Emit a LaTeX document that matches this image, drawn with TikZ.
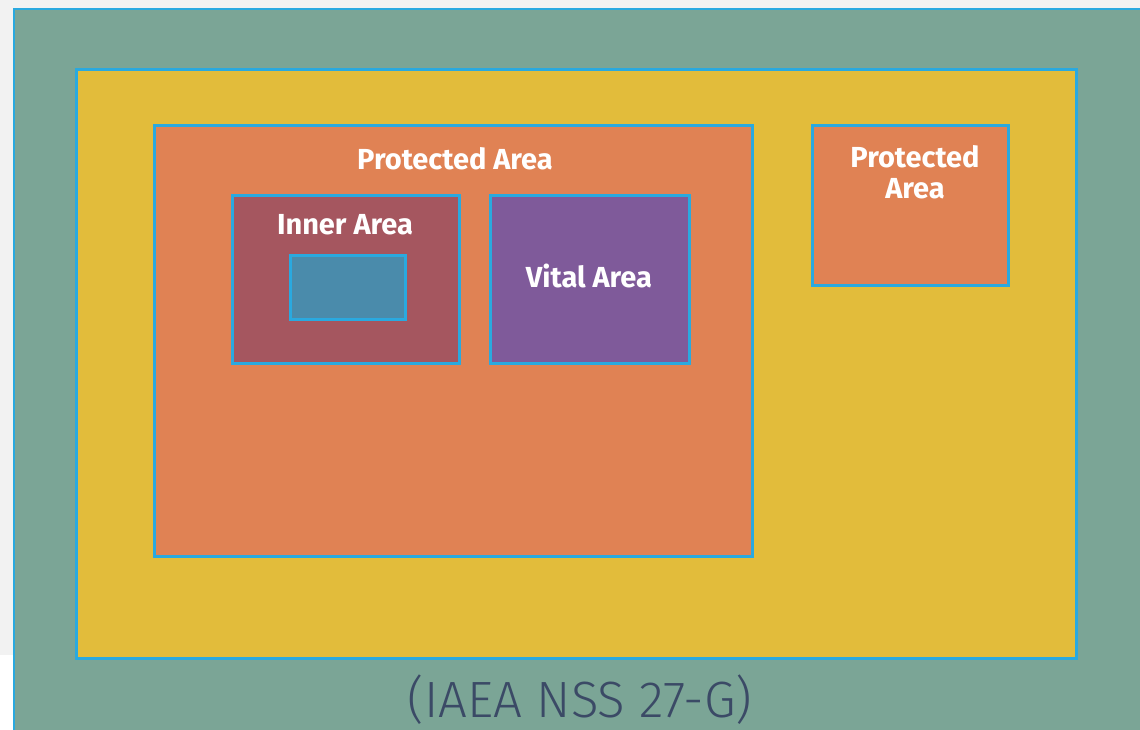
\documentclass[tikz,border=0pt]{standalone}
\usepackage{fontspec}
\setmainfont{Fira Sans}
\newfontfamily\capfont{Fira Sans Light}
\definecolor{pagegray}{HTML}{F2F2F2}
\definecolor{sitegreen}{HTML}{7BA596}
\definecolor{edgeblue}{HTML}{2AA9DF}
\definecolor{limitedyellow}{HTML}{E2BC3B}
\definecolor{protorange}{HTML}{E08254}
\definecolor{innerred}{HTML}{A5565F}
\definecolor{coreblue}{HTML}{4A8BAB}
\definecolor{vitalpurple}{HTML}{7F5A9A}
\definecolor{captionslate}{HTML}{3B4A66}
\tikzset{
  zone/.style={draw=edgeblue, line width=3pt, anchor=north west, inner sep=0pt},
  zonelabel/.style={text=white, font=\fontsize{29}{31}\selectfont\bfseries, align=center, inner sep=0pt}
}
\begin{document}
\begin{tikzpicture}[x=1pt,y=-1pt]
  \useasboundingbox (0,0) rectangle (1140,729);
  % page backdrop
  \fill[white] (0,0) rectangle (1140,729);
  \fill[pagegray] (0,0) rectangle (1140,655);
  % site boundary
  \fill[sitegreen] (14,9) rectangle (1150,740);
  \draw[edgeblue, line width=2pt] (14,740) -- (14,9) -- (1150,9);
  % limited access area
  \node[zone, fill=limitedyellow, minimum width=1000pt, minimum height=589pt] (limited) at (75,68) {};
  % protected area with inner and vital areas
  \node[zone, fill=protorange, minimum width=598pt, minimum height=431pt] (prot) at (153,124) {};
  \node[zone, fill=innerred, minimum width=227pt, minimum height=168pt] (inner) at (231,194) {};
  \node[zone, fill=coreblue, minimum width=115pt, minimum height=64pt] (core) at (289,254) {};
  \node[zone, fill=vitalpurple, minimum width=199pt, minimum height=168pt] (vital) at (489,194) {};
  % second protected area
  \node[zone, fill=protorange, minimum width=196pt, minimum height=160pt] (prot2) at (811,124) {};
  % labels
  \node[zonelabel] (protlbl) at (455,159) {Protected Area};
  \node[zonelabel] (innerlbl) at (345,225) {Inner Area};
  \node[zonelabel] (vitallbl) at (589,276) {Vital Area};
  \node[zonelabel, text width=190pt] (prot2lbl) at (915,172) {Protected\\[0pt]Area};
  \node[text=captionslate, font=\capfont\fontsize{51}{53}\selectfont, inner sep=0pt] (caption) at (580,700) {(IAEA NSS 27-G)};
\end{tikzpicture}
\end{document}
